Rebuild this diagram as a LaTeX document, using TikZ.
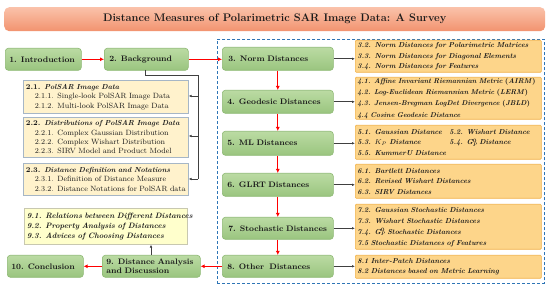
\documentclass[tikz,border=0pt]{standalone}
\usetikzlibrary{arrows.meta,positioning,calc}
\definecolor{gtop}{HTML}{BBDBA3}
\definecolor{gbot}{HTML}{9AC57F}
\definecolor{gdraw}{HTML}{8DB873}
\definecolor{tfillA}{HTML}{FAC2AA}
\definecolor{tfillB}{HTML}{F2936F}
\definecolor{ofill}{HTML}{FDD58A}
\definecolor{odraw}{HTML}{F2B24A}
\definecolor{yfill}{HTML}{FFF2CC}
\definecolor{ydraw}{HTML}{A6B6C6}
\definecolor{lyfill}{HTML}{FFFFCC}
\definecolor{lydraw}{HTML}{C8C8B0}
\definecolor{dblue}{HTML}{2E75B6}
\definecolor{redarrow}{HTML}{FF0000}
\definecolor{txt}{HTML}{1A1A1A}
\newcommand{\oneline}[1]{\mbox{#1}}
\newcommand{\hdline}[2]{{\fontsize{7.3}{9.4}\selectfont\bfseries #1 \itshape #2}}
\newcommand{\GPzero}{G\rlap{\raisebox{2.2pt}{\fontsize{5}{5}\selectfont\upshape 0}}\raisebox{-1.6pt}{\fontsize{5}{5}\selectfont P}}
\tikzset{
  greenbox/.style={draw=gdraw, line width=0.6pt, rounded corners=3pt, top color=gtop, bottom color=gbot,
    anchor=north west, inner sep=0pt, text=txt, font=\fontsize{8}{9.5}\selectfont\bfseries, align=left},
  orangebox/.style={draw=odraw, line width=0.6pt, fill=ofill, rounded corners=1pt, anchor=north west,
    inner sep=0pt, text=txt, font=\fontsize{7.2}{10.6}\selectfont\bfseries\itshape, align=left},
  yellowbox/.style={draw=ydraw, line width=0.6pt, fill=yfill, anchor=north west,
    inner sep=0pt, text=txt, font=\fontsize{7.6}{9.4}\selectfont, align=left},
  lybox/.style={draw=lydraw, line width=0.6pt, fill=lyfill, anchor=north west,
    inner sep=0pt, text=txt, font=\fontsize{7.8}{9.8}\selectfont\bfseries\itshape, align=left},
  redarr/.style={draw=redarrow, line width=1.3pt, -{Latex[length=4pt,width=4pt]}},
  greyarr/.style={draw=black!75, line width=0.6pt, -{Latex[length=3pt,width=2.6pt]}},
}
\begin{document}
\begin{tikzpicture}[x=1pt,y=-1pt]
\useasboundingbox (0,0) rectangle (550,288);
% title
\node[draw=none, rounded corners=5pt, top color=tfillA, bottom color=tfillB, anchor=north west,
  minimum width=541pt, minimum height=24pt, inner sep=0pt,
  font=\fontsize{11}{12}\selectfont\bfseries, text=txt] (title) at (4,7)
  {Distance Measures of Polarimetric SAR Image Data: A Survey};
% dashed box
\node[draw=dblue, line width=0.7pt, dash pattern=on 3pt off 2pt, anchor=north west,
  minimum width=327pt, minimum height=244pt, inner sep=0pt] (dash) at (217,39) {};
% green boxes
\node[greenbox, minimum width=76pt, minimum height=22pt, text width=68pt] (intro) at (5,48) {1. Introduction};
\node[greenbox, minimum width=84pt, minimum height=22pt, text width=74pt] (back) at (104,48) {2. Background};
\node[greenbox, minimum width=111pt, minimum height=23pt, text width=99pt] (norm) at (222,47) {3. Norm Distances};
\node[greenbox, minimum width=111pt, minimum height=23pt, text width=101pt] (geo) at (222,90) {4. Geodesic Distances};
\node[greenbox, minimum width=111pt, minimum height=24pt, text width=101pt] (ml) at (222,131) {5. ML Distances};
\node[greenbox, minimum width=111pt, minimum height=23pt, text width=101pt] (glrt) at (222,173) {6. GLRT Distances};
\node[greenbox, minimum width=111pt, minimum height=22pt, text width=99pt] (sto) at (222,217) {7. Stochastic Distances};
\node[greenbox, minimum width=111pt, minimum height=22pt, text width=101pt] (other) at (222,255) {8. Other\ \ Distances};
\node[greenbox, minimum width=98pt, minimum height=22pt, text width=90pt, font=\fontsize{8}{8.8}\selectfont\bfseries] (disc) at (102,255) {9. Distance Analysis\\and Discussion};
\node[greenbox, minimum width=76pt, minimum height=22pt, text width=68pt] (concl) at (7,255) {10. Conclusion};
% orange boxes
\node[orangebox, minimum width=186pt, minimum height=32pt, text width=182pt] (o3) at (355,40)
  {\oneline{3.2. Norm Distances for Polarimetric Matrices}\\\oneline{3.3. Norm Distances for Diagonal Elements}\\\oneline{3.4. Norm Distances for Features}};
\node[orangebox, minimum width=186pt, minimum height=42pt, text width=182pt, font=\fontsize{7}{11.2}\selectfont\bfseries\itshape] (o4) at (355,77)
  {\oneline{4.1. Affine Invariant Riemannian Metric \textup{(}AIRM\textup{)}}\\\oneline{4.2. Log-Euclidean Riemannian Metric \textup{(}LERM\textup{)}}\\\oneline{4.3. Jensen-Bregman LogDet Divergence \textup{(}JBLD\textup{)}}\\\oneline{4.4 Cosine Geodesic Distance}};
\node[orangebox, minimum width=186pt, minimum height=34pt, text width=182pt] (o5) at (355,125)
  {\makebox[92pt][l]{5.1. Gaussian Distance}\oneline{5.2. Wishart Distance}\\\makebox[92pt][l]{5.3. $K_P$ Distance}\oneline{5.4. \GPzero\ Distance}\\\oneline{5.5. KummerU Distance}};
\node[orangebox, minimum width=186pt, minimum height=34pt, text width=182pt] (o6) at (355,164)
  {\oneline{6.1. Bartlett Distances}\\\oneline{6.2. Revised Wishart Distances}\\\oneline{6.3. SIRV Distances}};
\node[orangebox, minimum width=186pt, minimum height=45pt, text width=182pt, font=\fontsize{7.2}{11}\selectfont\bfseries\itshape] (o7) at (355,204)
  {\oneline{7.2. Gaussian Stochastic Distances}\\\oneline{7.3. Wishart Stochastic Distances}\\\oneline{7.4. \GPzero\ Stochastic Distances}\\\oneline{7.5 Stochastic Distances of Features}};
\node[orangebox, minimum width=186pt, minimum height=23pt, text width=182pt] (o8) at (355,255)
  {\oneline{8.1 Inter-Patch Distances}\\\oneline{8.2 Distances based on Metric Learning}};
% yellow boxes
\node[yellowbox, minimum width=165pt, minimum height=33pt, text width=160pt] (y1) at (23,80)
  {\hdline{2.1.}{PolSAR Image Data}\\\hspace*{9pt}\oneline{2.1.1. Single-look PolSAR Image Data}\\\hspace*{9pt}\oneline{2.1.2. Multi-look PolSAR Image Data}};
\node[yellowbox, minimum width=165pt, minimum height=40pt, text width=160pt] (y2) at (23,117)
  {\hdline{2.2.}{Distributions of PolSAR Image Data}\\\hspace*{9pt}\oneline{2.2.1. Complex Gaussian Distribution}\\\hspace*{9pt}\oneline{2.2.2. Complex Wishart Distribution}\\\hspace*{9pt}\oneline{2.2.3. SIRV Model and Product Model}};
\node[yellowbox, minimum width=165pt, minimum height=32pt, text width=160pt] (y3) at (23,163)
  {\hdline{2.3.}{Distance Definition and Notations}\\\hspace*{9pt}\oneline{2.3.1. Definition of Distance Measure}\\\hspace*{9pt}\oneline{2.3.2. Distance Notations for PolSAR data}};
\node[lybox, minimum width=163pt, minimum height=36pt, text width=158pt] (y9) at (24,208)
  {\oneline{9.1. Relations between Different Distances}\\\oneline{9.2. Property Analysis of Distances}\\\oneline{9.3. Advices of Choosing Distances}};
% red arrows
\draw[redarr] (intro.east) -- (back.west);
\draw[redarr] (back.east) -- (back.east -| norm.west);
\draw[redarr] (norm) -- (geo);
\draw[redarr] (geo) -- (ml);
\draw[redarr] (ml) -- (glrt);
\draw[redarr] (glrt) -- (sto);
\draw[redarr] (sto) -- (other);
\draw[redarr] (other.west) -- (other.west -| disc.east);
\draw[redarr] (disc.west) -- (disc.west -| concl.east);
% grey arrows
\foreach \a/\b in {norm/o3, geo/o4, ml/o5, glrt/o6, sto/o7, other/o8}
  \draw[greyarr] (\a.east) -- (\a.east -| \b.west);
% background tree
\coordinate (bk1) at (145,70);
\coordinate (bk2) at (145,75);
\coordinate (bk3) at (198,75);
\coordinate (bk4) at (198,179);
\draw[black!75, line width=0.8pt] (bk1) -- (bk2) -- (bk3) -- (bk4);
\draw[greyarr] (198,96) -- (y1.east |- 0,96);
\draw[greyarr] (198,136) -- (y2.east |- 0,136);
\draw[greyarr] (bk4) -- (y3.east |- bk4);
\draw[greyarr] (disc.north -| 151,0) -- (y9.south -| 151,0);
\end{tikzpicture}
\end{document}
